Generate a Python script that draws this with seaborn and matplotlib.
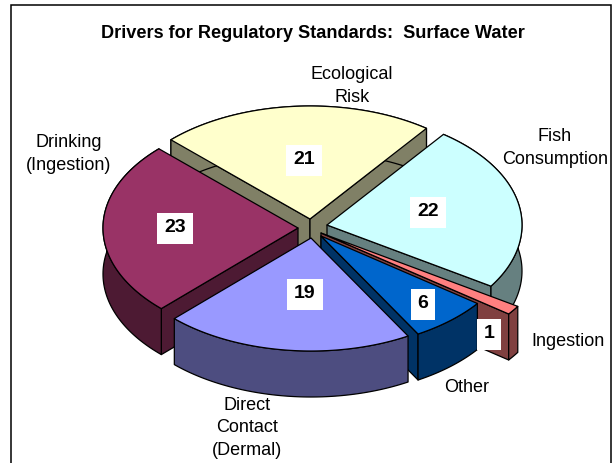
import numpy as np
import seaborn as sns
import matplotlib.pyplot as plt
from matplotlib.patches import Rectangle

# data
categorias = ['Ecological\nRisk', 'Fish\nConsumption', 'Ingestion', 'Other',
              'Direct\nContact\n(Dermal)', 'Drinking\n(Ingestion)']
valores = [21, 22, 1, 6, 19, 23]

# colours of the top and the side of each slice
colores = sns.color_palette(['#FFFFCC', '#CCFFFF', '#FF8080', '#0066CC', '#9999FF', '#993366'])
lados = sns.color_palette(['#808066', '#668080', '#804040', '#003366', '#4D4D80', '#4D1A33'])

# layout (pixels)
vertices = [(310, 219), (327, 225), (321, 233), (321, 236), (311, 238), (298, 228)]
escala = [1, 1, 1.2, 1, 1, 1]
orden = [0, 1, 5, 2, 3, 4]
pos_valor = [(304, 160), (428, 212), (489, 334), (423, 304), (305, 294), (175, 228)]
pos_nombre = [(352, 86), (555, 148), (568, 342), (467, 387), (247, 428), (69, 154)]
inicio = 135.5
rx, ry, alto = 195, 113, 46

sns.set_theme(style='white')
plt.rcParams['font.family'] = ['Liberation Sans', 'DejaVu Sans']

fig = plt.figure(figsize=(6.16, 4.63), dpi=100)
ax = fig.add_axes([0, 0, 1, 1])
ax.set_xlim(0, 616)
ax.set_ylim(463, 0)
ax.axis('off')

ax.add_patch(Rectangle((11, 5), 600, 470, fc='white', ec='black', lw=1.1, zorder=0))

# slice limits from the values, clockwise
limites = inicio - np.concatenate([[0], np.cumsum(valores)]) / sum(valores) * 360


def punto(i, ang):
    # point on the ellipse of slice i
    r = np.radians(ang)
    return (vertices[i][0] + escala[i] * rx * np.cos(r),
            vertices[i][1] - escala[i] * ry * np.sin(r))


borde = dict(edgecolor='black', linewidth=0.9, joinstyle='round')

for i in orden:
    a1, a2 = limites[i], limites[i + 1]
    vx, vy = vertices[i]
    ang = np.linspace(a1, a2, 80)
    ax_x, ax_y = punto(i, ang)

    # cut faces, only the ones turned to the viewer
    for a, normal in [(a1, a1 + 90), (a2, a2 - 90)]:
        if np.sin(np.radians(normal)) < 0:
            px, py = punto(i, a)
            ax.fill([vx, px, px, vx], [vy, py, py + alto, vy + alto],
                    facecolor=lados[i], **borde)

    # outer wall
    ax.fill(np.r_[ax_x, ax_x[::-1]], np.r_[ax_y, ax_y[::-1] + alto],
            facecolor=lados[i], **borde)

    # top
    ax.fill(np.r_[vx, ax_x], np.r_[vy, ax_y], facecolor=colores[i], **borde)

for (x, y), v in zip(pos_valor, valores):
    ax.text(x, y, str(v), ha='center', va='center', fontsize=14, fontweight='bold',
            color='black', zorder=10,
            bbox=dict(facecolor='white', edgecolor='none', pad=5))

for (x, y), n in zip(pos_nombre, categorias):
    ax.text(x, y, n, ha='center', va='center', fontsize=13, color='black',
            linespacing=1.45, zorder=10)

ax.text(313, 33, 'Drivers for Regulatory Standards:  Surface Water', ha='center', va='center',
        fontsize=13.1, fontweight='bold', color='black')

fig.savefig('out.png', dpi=100)
